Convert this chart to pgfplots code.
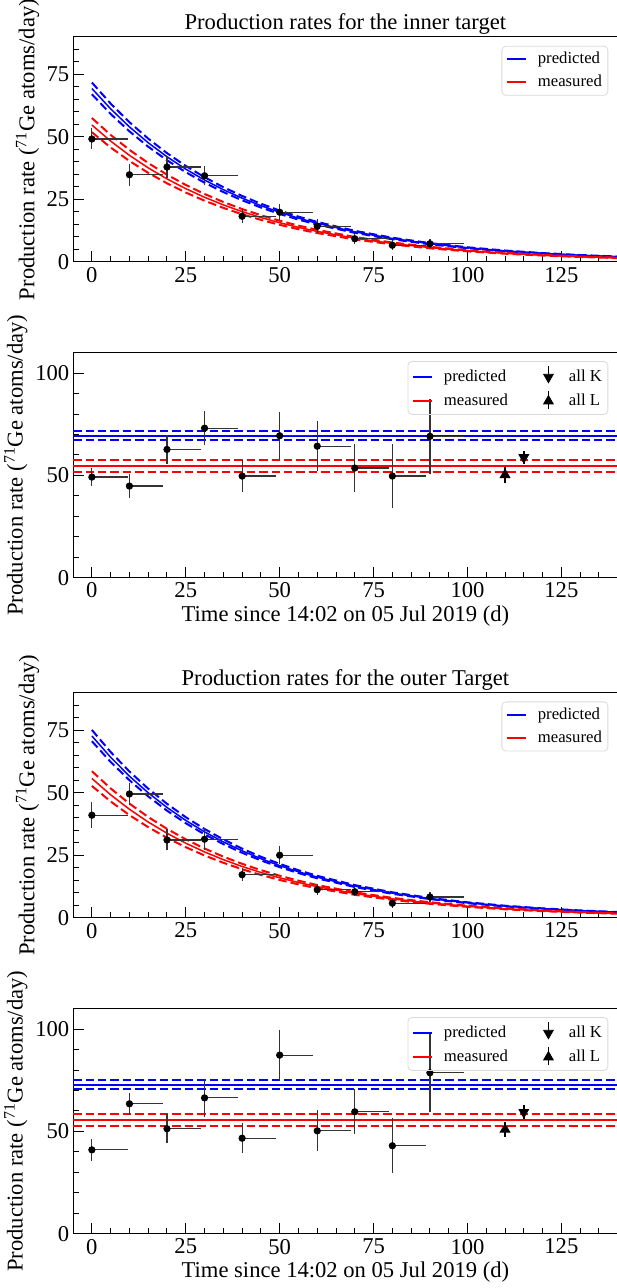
\documentclass[border=0pt]{standalone}
\usepackage{fontspec}
\setmainfont{Liberation Serif}
\usepackage{pgfplots}
\usepackage{pgfplotstable}
\pgfplotsset{compat=1.18}

\definecolor{pblue}{RGB}{0,0,255}
\definecolor{pred}{RGB}{255,0,0}

% decaying expectation, inner target (upper / central / lower)
\pgfplotstableread{
x bu bc bl ru rc rl
0 71.80 69.40 67.10 57.60 54.80 51.90
5 63.36 61.25 59.22 50.83 48.36 45.80
10 55.92 54.05 52.26 44.86 42.68 40.42
15 49.35 47.70 46.12 39.59 37.66 35.67
20 43.55 42.09 40.70 34.93 33.24 31.48
25 38.43 37.15 35.92 30.83 29.33 27.78
30 33.92 32.78 31.70 27.21 25.89 24.52
35 29.93 28.93 27.97 24.01 22.85 21.64
40 26.42 25.53 24.69 21.19 20.16 19.09
45 23.31 22.53 21.79 18.70 17.79 16.85
50 20.57 19.88 19.22 16.50 15.70 14.87
55 18.15 17.54 16.96 14.56 13.85 13.12
60 16.02 15.48 14.97 12.85 12.23 11.58
70 12.48 12.06 11.66 10.01 9.52 9.02
80 9.71 9.39 9.08 7.79 7.41 7.02
90 7.57 7.31 7.07 6.07 5.78 5.47
100 5.89 5.70 5.51 4.73 4.50 4.26
110 4.59 4.43 4.29 3.68 3.50 3.32
120 3.58 3.46 3.34 2.87 2.73 2.58
130 2.79 2.69 2.60 2.23 2.13 2.01
140 2.17 2.10 2.03 1.74 1.65 1.57
}\innercurve

% decaying expectation, outer target
\pgfplotstableread{
x bu bc bl ru rc rl
0 75.10 72.70 70.60 58.60 55.70 52.70
5 66.28 64.16 62.30 51.71 49.16 46.51
10 58.49 56.62 54.98 45.64 43.38 41.04
15 51.62 49.97 48.52 40.28 38.28 36.22
20 45.55 44.09 42.82 35.54 33.78 31.96
25 40.20 38.92 37.79 31.37 29.82 28.21
30 35.48 34.34 33.35 27.68 26.31 24.90
35 31.31 30.31 29.43 24.43 23.22 21.97
40 27.63 26.75 25.97 21.56 20.49 19.39
45 24.38 23.61 22.92 19.03 18.09 17.11
50 21.52 20.83 20.23 16.79 15.96 15.10
55 18.99 18.38 17.85 14.81 14.08 13.32
60 16.75 16.22 15.75 13.07 12.43 11.76
70 13.05 12.64 12.27 10.18 9.68 9.16
80 10.16 9.84 9.55 7.93 7.54 7.13
90 7.92 7.66 7.44 6.18 5.87 5.55
100 6.17 5.97 5.80 4.81 4.57 4.33
110 4.80 4.65 4.51 3.74 3.56 3.37
120 3.74 3.62 3.52 2.92 2.77 2.62
130 2.91 2.82 2.74 2.27 2.16 2.04
140 2.27 2.20 2.13 1.77 1.68 1.59
}\outercurve

% measured rates: x, rate, exposure length, error
\pgfplotstableread{
x y ex ey
0 49.2 9.7 4.2
10 34.9 9.0 4.4
20 38.0 9.0 4.4
30 34.5 9.0 3.9
40 18.3 9.0 2.9
50 19.9 9.0 3.3
60 14.3 9.0 2.7
70 9.3 9.0 2.0
80 6.7 9.0 2.1
90 7.3 9.0 1.9
}\innerdecay

\pgfplotstableread{
x y ex ey
0 49.2 9.7 4.2
10 44.8 9.0 5.7
20 62.7 9.0 7.2
30 73.1 9.0 8.3
40 49.7 9.0 7.9
50 69.4 9.0 11.6
60 64.3 9.0 12.2
70 53.6 9.0 11.6
80 49.7 9.0 15.7
90 69.1 9.0 18.3
}\innerflat

\pgfplotstableread{
x y ex ey
0 41.0 9.7 5.3
10 49.5 9.0 4.3
20 31.1 9.0 4.2
30 31.4 9.0 4.4
40 17.2 9.0 2.7
50 25.0 9.0 3.6
60 11.2 9.0 2.2
70 10.4 9.0 1.9
80 5.8 9.0 1.8
90 8.3 9.0 2.0
}\outerdecay

\pgfplotstableread{
x y ex ey
0 41.0 9.7 5.3
10 63.5 9.0 5.5
20 51.3 9.0 7.0
30 66.4 9.0 9.4
40 46.7 9.0 7.3
50 87.3 9.0 12.5
60 50.3 9.0 10.0
70 59.6 9.0 11.0
80 43.0 9.0 13.4
90 78.7 9.0 19.0
}\outerflat

\pgfplotsset{
  ratebase/.style={
    scale only axis, width=272.3pt, height=112.5pt,
    xmin=-5, xmax=140, ymin=0,
    xtick={0,25,...,150}, minor x tick num=4,
    tick pos=left, tick align=inside,
    major tick length=5.3pt, minor tick length=2.8pt,
    every tick/.append style={black, line width=0.5pt},
    axis line style={line width=0.5pt},
    font=\fontsize{11.3}{13.6}\selectfont,
    /pgf/number format/assume math mode=true,
    xticklabel style={yshift=0.9pt},
    yticklabel style={xshift=1.6pt},
    every axis title shift=0pt,
    title style={at={(0.5,1)}, anchor=base, yshift=3.5pt},
    ylabel={Production rate (\textsuperscript{71}Ge atoms/day)},
    legend cell align=left,
    legend style={font=\fontsize{8.35}{10}\selectfont, draw=black!15, fill=none,
      rounded corners=2pt, inner sep=2pt, row sep=2pt, anchor=north east,
      nodes={inner sep=1pt},
      /tikz/every odd column/.append style={column sep=4.5pt}},
    legend image code/.code={\draw[sharp corners, ##1] (0pt,0pt) -- (9.5pt,0pt);},
  },
  decayaxis/.style={ratebase, ymax=90, ytick={0,25,...,100}, minor y tick num=4,
    ylabel style={at={(axis description cs:-0.0711,0.5)}, anchor=base},
    legend style={at={(0.9827,0.961)}}},
  flataxis/.style={ratebase, ymax=110, ytick={0,50,100,150}, minor y tick num=4,
    ylabel style={at={(axis description cs:-0.0927,0.5)}, anchor=base},
    xlabel={Time since 14:02 on 05 Jul 2019 (d)},
    xlabel style={at={(axis description cs:0.5,-0.1929)}, anchor=base},
    legend columns=2,
    legend style={at={(0.9827,0.963)},
      /tikz/every even column/.append style={column sep=14.5pt}}},
  band/.style={line width=1pt, dash pattern=on 4.2pt off 2pt},
  pts/.style={black, only marks, mark=*, mark size=1.6pt,
    error bars/y dir=both, error bars/y explicit,
    error bars/x dir=plus, error bars/x explicit,
    error bars/error mark=none,
    error bars/error bar style={line width=0.6pt, black!80}},
  kmark/.style={black, only marks, mark=triangle*, mark size=2.8pt,
    mark options={rotate=180},
    error bars/y dir=both, error bars/y explicit, error bars/error mark=none,
    error bars/error bar style={line width=0.7pt, black}},
  lmark/.style={black, only marks, mark=triangle*, mark size=2.8pt,
    error bars/y dir=both, error bars/y explicit, error bars/error mark=none,
    error bars/error bar style={line width=0.7pt, black}},
  klegend/.style={legend image code/.code={
    \path[draw=none, fill=none] (0pt,-3pt) rectangle (9.5pt,3pt);
    \draw[black, line width=0.7pt] (4.75pt,0pt) -- (4.75pt,5.5pt);
    \fill[black, sharp corners] (2.35pt,1.4pt) -- (7.15pt,1.4pt) -- (4.75pt,-2.8pt) -- cycle;}},
  llegend/.style={legend image code/.code={
    \path[draw=none, fill=none] (0pt,-3pt) rectangle (9.5pt,3pt);
    \draw[black, line width=0.7pt] (4.75pt,-4pt) -- (4.75pt,5pt);
    \fill[black, sharp corners] (2.35pt,-1.4pt) -- (7.15pt,-1.4pt) -- (4.75pt,2.8pt) -- cycle;}},
}

\begin{document}
\begin{tikzpicture}
\useasboundingbox (0pt,0pt) rectangle (308pt,-644pt);

% ---- inner target, decaying
\begin{axis}[decayaxis, at={(36.55pt,-18.5pt)}, anchor=north west,
  title={Production rates for the inner target}]
\addlegendimage{pblue, line width=1pt}
\addlegendentry{predicted}
\addlegendimage{pred, line width=1pt}
\addlegendentry{measured}
\addplot[forget plot, pblue, band] table[x=x, y=bu] {\innercurve};
\addplot[forget plot, pblue, band] table[x=x, y=bl] {\innercurve};
\addplot[forget plot, pblue, line width=0.75pt] table[x=x, y=bc] {\innercurve};
\addplot[forget plot, pred, band] table[x=x, y=ru] {\innercurve};
\addplot[forget plot, pred, band] table[x=x, y=rl] {\innercurve};
\addplot[forget plot, pred, line width=0.75pt] table[x=x, y=rc] {\innercurve};
\addplot[forget plot, pts] table[x=x, y=y, x error=ex, y error=ey] {\innerdecay};
\end{axis}

% ---- inner target, decay corrected
\begin{axis}[flataxis, at={(36.55pt,-176.35pt)}, anchor=north west]
\addlegendimage{pblue, line width=1pt}
\addlegendentry{predicted}
\addlegendimage{klegend}
\addlegendentry{all K}
\addlegendimage{pred, line width=1pt}
\addlegendentry{measured}
\addlegendimage{llegend}
\addlegendentry{all L}
\addplot[forget plot, pblue, band] coordinates {(-5,71.8) (140,71.8)};
\addplot[forget plot, pblue, band] coordinates {(-5,67.1) (140,67.1)};
\addplot[forget plot, pblue, line width=1pt] coordinates {(-5,69.4) (140,69.4)};
\addplot[forget plot, pred, band] coordinates {(-5,57.6) (140,57.6)};
\addplot[forget plot, pred, band] coordinates {(-5,51.9) (140,51.9)};
\addplot[forget plot, pred, line width=1pt] coordinates {(-5,54.8) (140,54.8)};
\addplot[forget plot, pts] table[x=x, y=y, x error=ex, y error=ey] {\innerflat};
\addplot[forget plot, kmark] coordinates {(115,58.8) +- (0,3.3)};
\addplot[forget plot, lmark] coordinates {(110,50.3) +- (0,4.0)};
\end{axis}

% ---- outer target, decaying
\begin{axis}[decayaxis, at={(36.55pt,-346.35pt)}, anchor=north west,
  title={Production rates for the outer Target}]
\addlegendimage{pblue, line width=1pt}
\addlegendentry{predicted}
\addlegendimage{pred, line width=1pt}
\addlegendentry{measured}
\addplot[forget plot, pblue, band] table[x=x, y=bu] {\outercurve};
\addplot[forget plot, pblue, band] table[x=x, y=bl] {\outercurve};
\addplot[forget plot, pblue, line width=0.75pt] table[x=x, y=bc] {\outercurve};
\addplot[forget plot, pred, band] table[x=x, y=ru] {\outercurve};
\addplot[forget plot, pred, band] table[x=x, y=rl] {\outercurve};
\addplot[forget plot, pred, line width=0.75pt] table[x=x, y=rc] {\outercurve};
\addplot[forget plot, pts] table[x=x, y=y, x error=ex, y error=ey] {\outerdecay};
\end{axis}

% ---- outer target, decay corrected
\begin{axis}[flataxis, at={(36.55pt,-504.35pt)}, anchor=north west]
\addlegendimage{pblue, line width=1pt}
\addlegendentry{predicted}
\addlegendimage{klegend}
\addlegendentry{all K}
\addlegendimage{pred, line width=1pt}
\addlegendentry{measured}
\addlegendimage{llegend}
\addlegendentry{all L}
\addplot[forget plot, pblue, band] coordinates {(-5,75.1) (140,75.1)};
\addplot[forget plot, pblue, band] coordinates {(-5,70.6) (140,70.6)};
\addplot[forget plot, pblue, line width=1pt] coordinates {(-5,72.7) (140,72.7)};
\addplot[forget plot, pred, band] coordinates {(-5,58.6) (140,58.6)};
\addplot[forget plot, pred, band] coordinates {(-5,52.7) (140,52.7)};
\addplot[forget plot, pred, line width=1pt] coordinates {(-5,55.7) (140,55.7)};
\addplot[forget plot, pts] table[x=x, y=y, x error=ex, y error=ey] {\outerflat};
\addplot[forget plot, kmark] coordinates {(115,59.4) +- (0,3.5)};
\addplot[forget plot, lmark] coordinates {(110,51.0) +- (0,3.7)};
\end{axis}
\end{tikzpicture}
\end{document}
